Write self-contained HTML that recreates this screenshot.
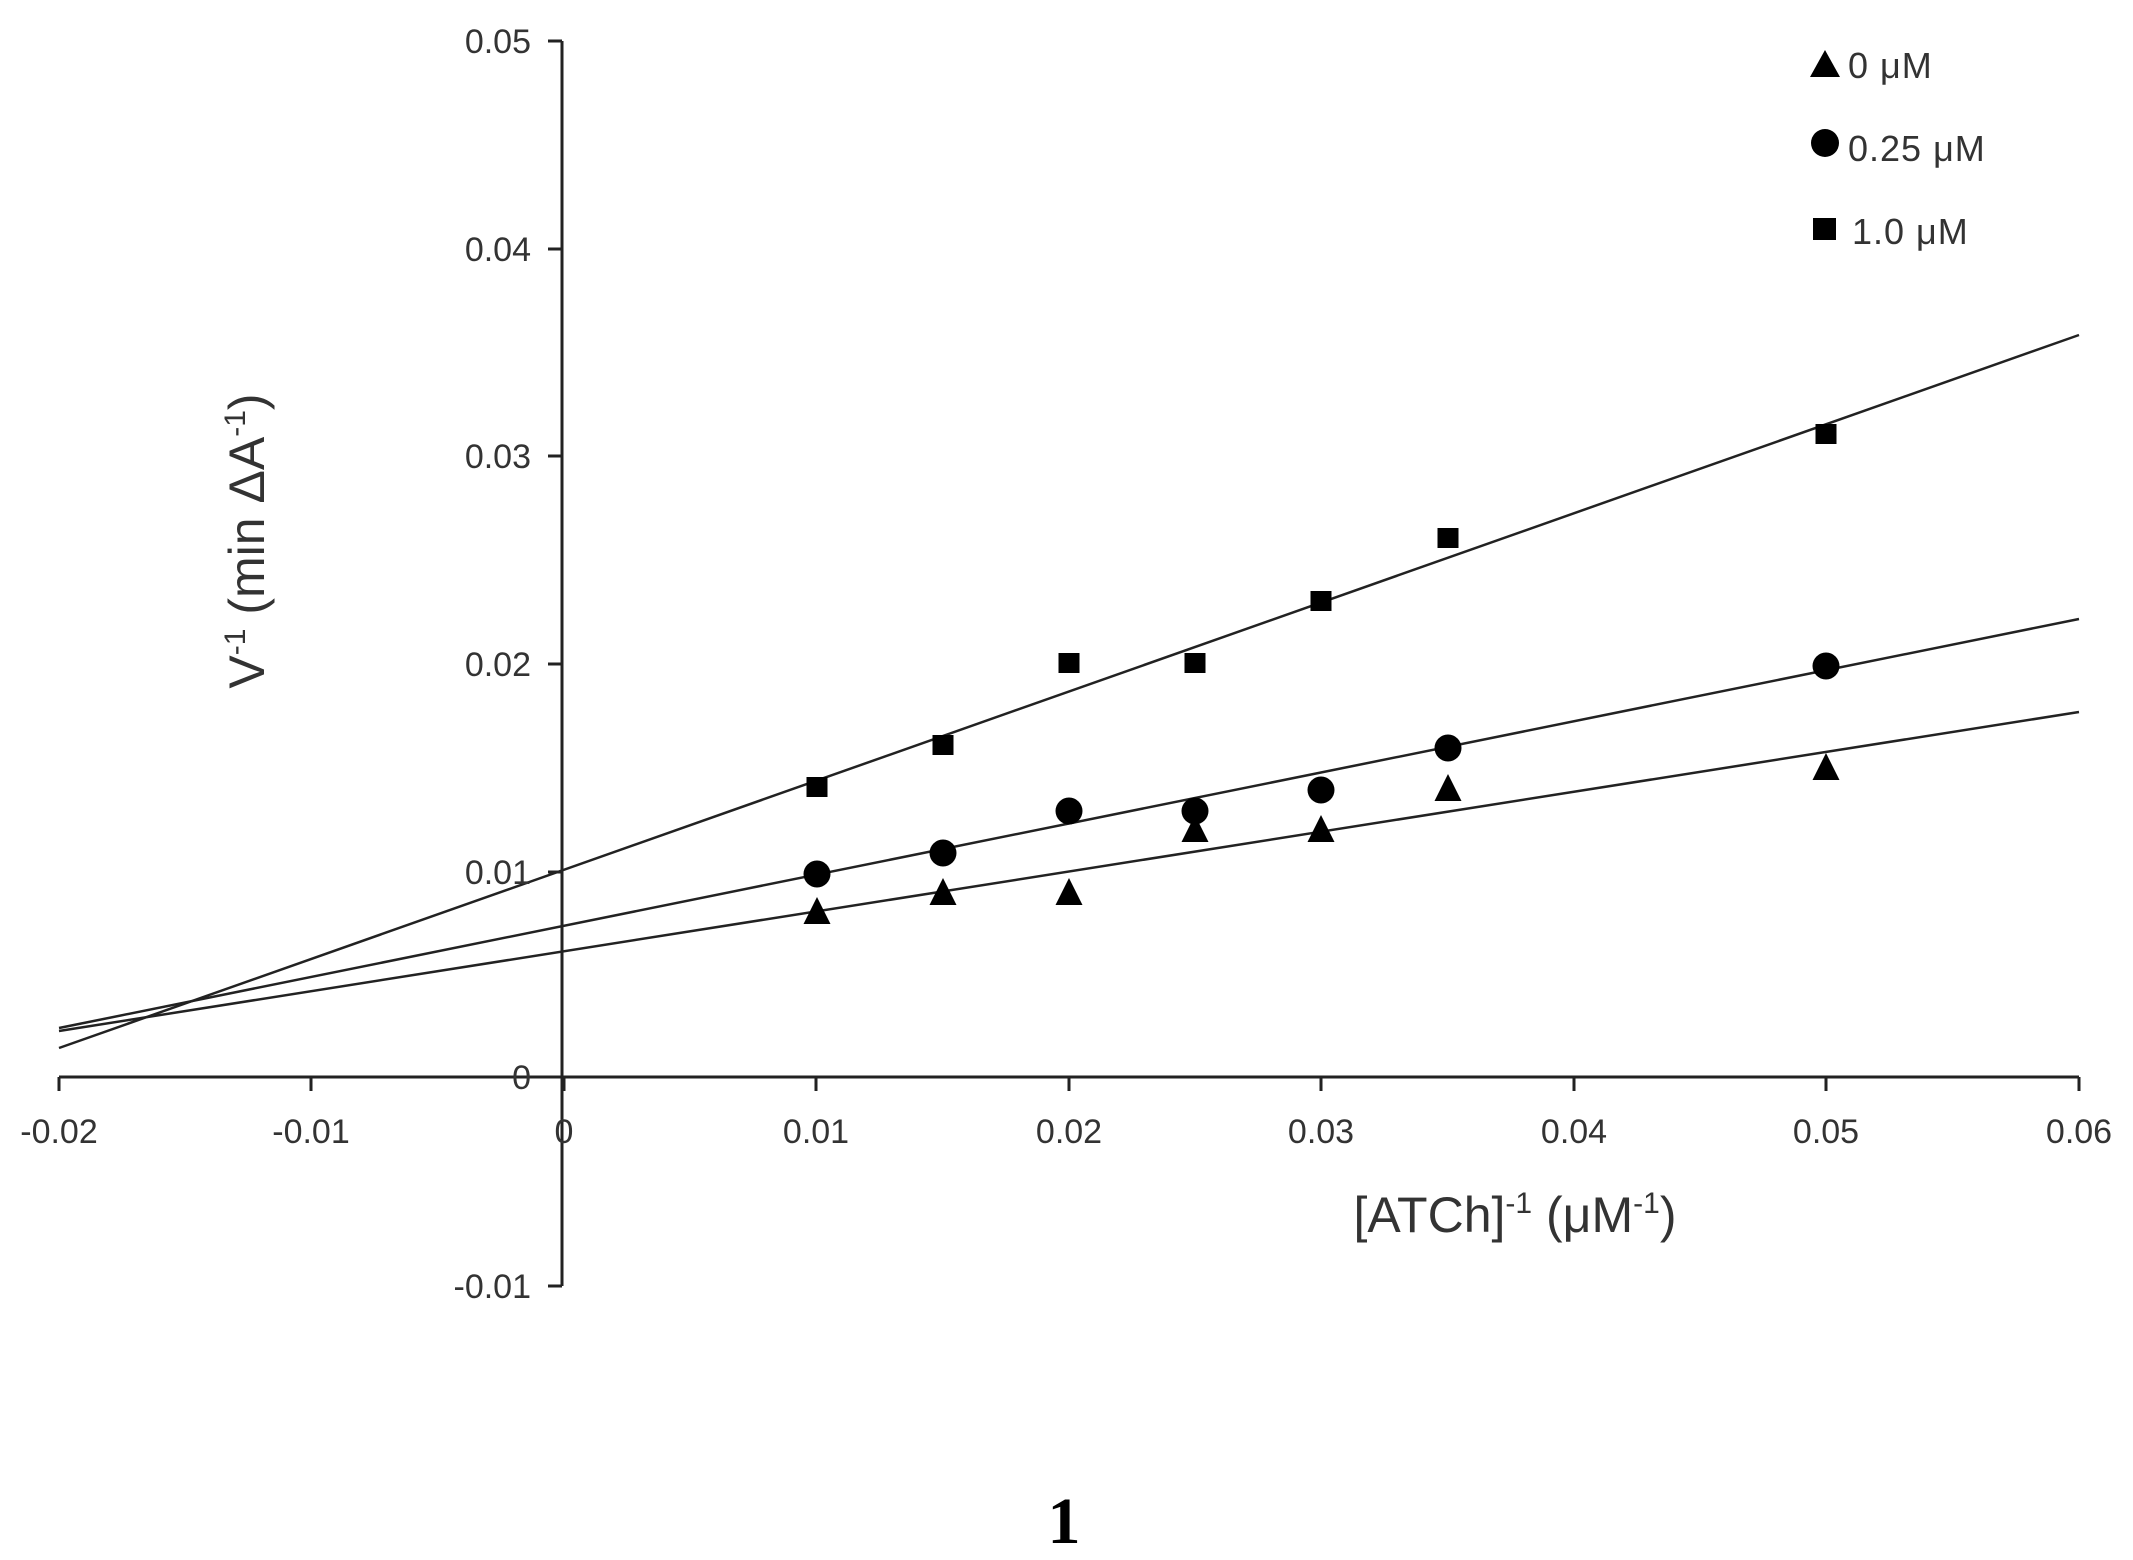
<!DOCTYPE html>
<html><head><meta charset="utf-8"><style>
html,body{margin:0;padding:0;background:#fff;}
svg{display:block;}
text{font-family:"Liberation Sans",sans-serif;fill:#333;}
</style></head><body>
<svg width="2133" height="1560" viewBox="0 0 2133 1560" xmlns="http://www.w3.org/2000/svg">
<defs>
<path id="tri" d="M0,-15 L13.5,12 L-13.5,12 Z" fill="#000"/>
<circle id="cir" r="13.5" fill="#000"/>
<rect id="sq" x="-10.5" y="-10" width="21" height="20" fill="#000"/>
</defs>
<g stroke="#222" stroke-width="3" fill="none">
<line x1="59" y1="1077" x2="2079" y2="1077"/>
<line x1="562" y1="41" x2="562" y2="1286"/>
<line x1="59" y1="1077" x2="59" y2="1091"/>
<line x1="311" y1="1077" x2="311" y2="1091"/>
<line x1="564" y1="1077" x2="564" y2="1091"/>
<line x1="816" y1="1077" x2="816" y2="1091"/>
<line x1="1069" y1="1077" x2="1069" y2="1091"/>
<line x1="1321" y1="1077" x2="1321" y2="1091"/>
<line x1="1574" y1="1077" x2="1574" y2="1091"/>
<line x1="1826" y1="1077" x2="1826" y2="1091"/>
<line x1="2079" y1="1077" x2="2079" y2="1091"/>
<line x1="548" y1="41" x2="562" y2="41"/>
<line x1="548" y1="249" x2="562" y2="249"/>
<line x1="548" y1="456" x2="562" y2="456"/>
<line x1="548" y1="664" x2="562" y2="664"/>
<line x1="548" y1="872" x2="562" y2="872"/>
<line x1="548" y1="1286" x2="562" y2="1286"/>
</g>
<g stroke="#222" stroke-width="2.5">
<line x1="59" y1="1048" x2="2079" y2="335"/>
<line x1="59" y1="1028" x2="2079" y2="619"/>
<line x1="59" y1="1031" x2="2079" y2="712"/>
</g>
<g>
<use href="#sq" x="817" y="787"/><use href="#sq" x="943" y="745"/><use href="#sq" x="1069" y="663"/><use href="#sq" x="1195" y="663"/><use href="#sq" x="1321" y="601"/><use href="#sq" x="1448" y="538"/><use href="#sq" x="1826" y="434"/>
<use href="#cir" x="817" y="874"/><use href="#cir" x="943" y="853"/><use href="#cir" x="1069" y="811"/><use href="#cir" x="1195" y="811"/><use href="#cir" x="1321" y="790"/><use href="#cir" x="1448" y="748"/><use href="#cir" x="1826" y="666"/>
<use href="#tri" x="817" y="912"/><use href="#tri" x="943" y="893"/><use href="#tri" x="1069" y="893"/><use href="#tri" x="1195" y="830"/><use href="#tri" x="1321" y="830"/><use href="#tri" x="1448" y="789"/><use href="#tri" x="1826" y="768"/>
</g>
<g font-size="34" text-anchor="end">
<text x="531" y="53">0.05</text>
<text x="531" y="261">0.04</text>
<text x="531" y="468">0.03</text>
<text x="531" y="676">0.02</text>
<text x="531" y="884">0.01</text>
<text x="531" y="1089">0</text>
<text x="531" y="1298">-0.01</text>
</g>
<g font-size="34" text-anchor="middle">
<text x="59" y="1143">-0.02</text>
<text x="311" y="1143">-0.01</text>
<text x="564" y="1143">0</text>
<text x="816" y="1143">0.01</text>
<text x="1069" y="1143">0.02</text>
<text x="1321" y="1143">0.03</text>
<text x="1574" y="1143">0.04</text>
<text x="1826" y="1143">0.05</text>
<text x="2079" y="1143">0.06</text>
</g>
<text x="1515" y="1232" font-size="50" text-anchor="middle">[ATCh]<tspan font-size="30" dy="-19">-1</tspan><tspan dy="19"> (μM</tspan><tspan font-size="30" dy="-19">-1</tspan><tspan dy="19">)</tspan></text>
<text transform="translate(264,541) rotate(-90)" font-size="50" text-anchor="middle">V<tspan font-size="30" dy="-19">-1</tspan><tspan dy="19"> (min ΔA</tspan><tspan font-size="30" dy="-19">-1</tspan><tspan dy="19">)</tspan></text>
<path d="M1825,50 L1840,77 L1810,77 Z" fill="#000"/>
<circle cx="1825" cy="143" r="14" fill="#000"/>
<rect x="1813" y="218" width="23" height="22" fill="#000"/>
<g font-size="36" letter-spacing="1">
<text x="1848" y="78">0  μM</text>
<text x="1848" y="161">0.25  μM</text>
<text x="1852" y="244">1.0  μM</text>
</g>
<text x="1064" y="1543" font-size="66" font-weight="bold" text-anchor="middle" style="font-family:'Liberation Serif',serif;fill:#000">1</text>
</svg>
</body></html>
